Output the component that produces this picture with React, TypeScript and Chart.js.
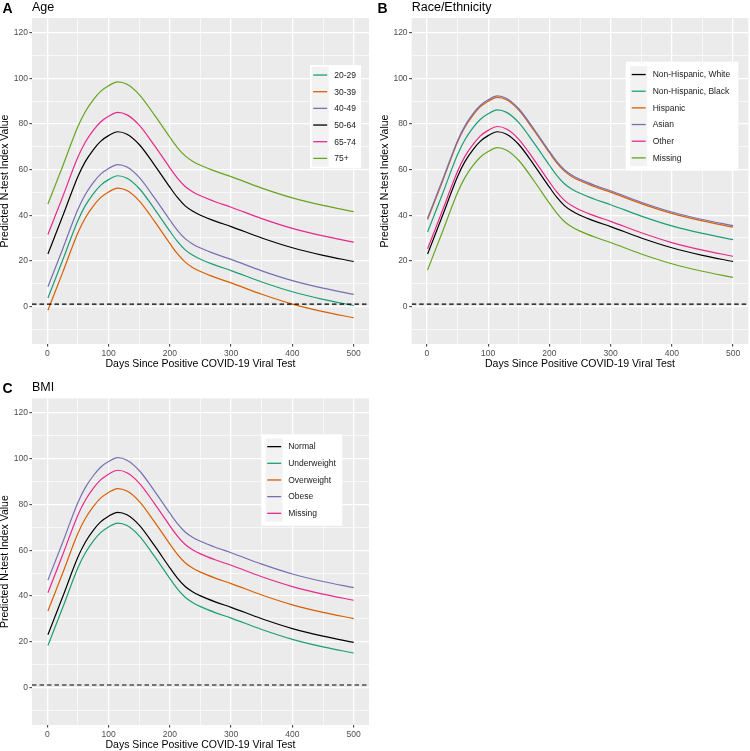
import React, { useEffect, useRef } from 'react';
import { Chart, registerables } from 'chart.js';

Chart.register(...registerables);

// ---------- data ----------
const DAYS = [1, 25, 50, 62, 75, 87, 100, 115, 130, 150, 175, 200, 212, 225, 237, 250, 275, 300, 350, 400, 450, 500];
const X_TICKS = [0, 50, 100, 150, 200, 250, 300, 350, 400, 450, 500];
const Y_TICKS = [-10, 0, 10, 20, 30, 40, 50, 60, 70, 80, 90, 100, 110, 120];
const X_MIN = -24.95;
const X_MAX = 524.95;
const Y_MIN = -16.5;
const Y_MAX = 126.5;
const REF_VALUE = 1;

// Panel A – Age
const AGE_LABELS = ['20-29', '30-39', '40-49', '50-64', '65-74', '75+'];
const AGE_20_29 = [3.7, 20.2, 37.7, 44.2, 49.4, 53.1, 55.6, 57.3, 56.2, 51.7, 42.7, 33.0, 28.6, 24.8, 22.5, 20.7, 18.0, 15.7, 10.7, 6.4, 3.1, 0.4];
const AGE_30_39 = [-1.7, 14.8, 32.3, 38.8, 44.0, 47.7, 50.2, 51.9, 50.8, 46.3, 37.3, 27.6, 23.2, 19.4, 17.1, 15.3, 12.6, 10.3, 5.3, 1.0, -2.3, -5.0];
const AGE_40_49 = [8.6, 25.1, 42.6, 49.1, 54.3, 58.0, 60.5, 62.2, 61.1, 56.6, 47.6, 37.9, 33.5, 29.7, 27.4, 25.6, 22.9, 20.6, 15.6, 11.3, 8.0, 5.3];
const AGE_50_64 = [23.0, 39.5, 57.0, 63.5, 68.7, 72.4, 74.9, 76.6, 75.5, 71.0, 62.0, 52.3, 47.9, 44.1, 41.8, 40.0, 37.3, 35.0, 30.0, 25.7, 22.4, 19.7];
const AGE_65_74 = [31.5, 48.0, 65.5, 72.0, 77.2, 80.9, 83.4, 85.1, 84.0, 79.5, 70.5, 60.8, 56.4, 52.6, 50.3, 48.5, 45.8, 43.5, 38.5, 34.2, 30.9, 28.2];
const AGE_75_UP = [44.9, 61.4, 78.9, 85.4, 90.6, 94.3, 96.8, 98.5, 97.4, 92.9, 83.9, 74.2, 69.8, 66.0, 63.7, 61.9, 59.2, 56.9, 51.9, 47.6, 44.3, 41.6];

// Panel B – Race/Ethnicity
const RACE_LABELS = ['Non-Hispanic, White', 'Non-Hispanic, Black', 'Hispanic', 'Asian', 'Other', 'Missing'];
const RACE_WHITE = [23.0, 39.5, 57.0, 63.5, 68.7, 72.4, 74.9, 76.6, 75.5, 71.0, 62.0, 52.3, 47.9, 44.1, 41.8, 40.0, 37.3, 35.0, 30.0, 25.7, 22.4, 19.7];
const RACE_BLACK = [32.6, 49.1, 66.6, 73.1, 78.3, 82.0, 84.5, 86.2, 85.1, 80.6, 71.6, 61.9, 57.5, 53.7, 51.4, 49.6, 46.9, 44.6, 39.6, 35.3, 32.0, 29.3];
const RACE_HISPANIC = [38.1, 54.6, 72.1, 78.6, 83.8, 87.5, 90.0, 91.7, 90.6, 86.1, 77.1, 67.4, 63.0, 59.2, 56.9, 55.1, 52.4, 50.1, 45.1, 40.8, 37.5, 34.8];
const RACE_ASIAN = [38.7, 55.2, 72.7, 79.2, 84.4, 88.1, 90.6, 92.3, 91.2, 86.7, 77.7, 68.0, 63.6, 59.8, 57.5, 55.7, 53.0, 50.7, 45.7, 41.4, 38.1, 35.4];
const RACE_OTHER = [25.3, 41.8, 59.3, 65.8, 71.0, 74.7, 77.2, 78.9, 77.8, 73.3, 64.3, 54.6, 50.2, 46.4, 44.1, 42.3, 39.6, 37.3, 32.3, 28.0, 24.7, 22.0];
const RACE_MISSING = [16.0, 32.5, 50.0, 56.5, 61.7, 65.4, 67.9, 69.6, 68.5, 64.0, 55.0, 45.3, 40.9, 37.1, 34.8, 33.0, 30.3, 28.0, 23.0, 18.7, 15.4, 12.7];

// Panel C – BMI
const BMI_LABELS = ['Normal', 'Underweight', 'Overweight', 'Obese', 'Missing'];
const BMI_NORMAL = [23.0, 39.5, 57.0, 63.5, 68.7, 72.4, 74.9, 76.6, 75.5, 71.0, 62.0, 52.3, 47.9, 44.1, 41.8, 40.0, 37.3, 35.0, 30.0, 25.7, 22.4, 19.7];
const BMI_UNDER = [18.3, 34.8, 52.3, 58.8, 64.0, 67.7, 70.2, 71.9, 70.8, 66.3, 57.3, 47.6, 43.2, 39.4, 37.1, 35.3, 32.6, 30.3, 25.3, 21.0, 17.7, 15.0];
const BMI_OVER = [33.4, 49.9, 67.4, 73.9, 79.1, 82.8, 85.3, 87.0, 85.9, 81.4, 72.4, 62.7, 58.3, 54.5, 52.2, 50.4, 47.7, 45.4, 40.4, 36.1, 32.8, 30.1];
const BMI_OBESE = [46.9, 63.4, 80.9, 87.4, 92.6, 96.3, 98.8, 100.5, 99.4, 94.9, 85.9, 76.2, 71.8, 68.0, 65.7, 63.9, 61.2, 58.9, 53.9, 49.6, 46.3, 43.6];
const BMI_MISSING = [41.4, 57.9, 75.4, 81.9, 87.1, 90.8, 93.3, 95.0, 93.9, 89.4, 80.4, 70.7, 66.3, 62.5, 60.2, 58.4, 55.7, 53.4, 48.4, 44.1, 40.8, 38.1];

// ---------- styles ----------
const TEAL = '#1B9E77';
const ORANGE = '#D95F02';
const PURPLE = '#7570B3';
const PINK = '#E7298A';
const GREEN = '#66A61E';
const BLACK = '#000000';
const FONT = '"Liberation Sans", Arial, Helvetica, sans-serif';
const X_TITLE = 'Days Since Positive COVID-19 Viral Test';
const Y_TITLE = 'Predicted N-test Index Value';

type Series = { label: string; values: number[]; color: string };
type PanelCfg = {
  tag: string;
  title: string;
  left: number;
  top: number;
  w: number;
  h: number;
  plot: { l: number; r: number; t: number; b: number };
  legend: { x: number; y: number; w: number; pad: number };
  series: Series[];
};

const PANELS: PanelCfg[] = [
  {
    tag: 'A',
    title: 'Age',
    left: 0,
    top: 0,
    w: 375,
    h: 375,
    plot: { l: 32, r: 369, t: 18, b: 344 },
    legend: { x: 310, y: 65, w: 51, pad: 1.7 },
    series: [
      { label: AGE_LABELS[0], values: AGE_20_29, color: TEAL },
      { label: AGE_LABELS[1], values: AGE_30_39, color: ORANGE },
      { label: AGE_LABELS[2], values: AGE_40_49, color: PURPLE },
      { label: AGE_LABELS[3], values: AGE_50_64, color: BLACK },
      { label: AGE_LABELS[4], values: AGE_65_74, color: PINK },
      { label: AGE_LABELS[5], values: AGE_75_UP, color: GREEN },
    ],
  },
  {
    tag: 'B',
    title: 'Race/Ethnicity',
    left: 375,
    top: 0,
    w: 375,
    h: 375,
    plot: { l: 36.7, r: 373.3, t: 18, b: 344 },
    legend: { x: 250.7, y: 61.7, w: 112.6, pad: 4.5 },
    series: [
      { label: RACE_LABELS[0], values: RACE_WHITE, color: BLACK },
      { label: RACE_LABELS[1], values: RACE_BLACK, color: TEAL },
      { label: RACE_LABELS[2], values: RACE_HISPANIC, color: ORANGE },
      { label: RACE_LABELS[3], values: RACE_ASIAN, color: PURPLE },
      { label: RACE_LABELS[4], values: RACE_OTHER, color: PINK },
      { label: RACE_LABELS[5], values: RACE_MISSING, color: GREEN },
    ],
  },
  {
    tag: 'C',
    title: 'BMI',
    left: 0,
    top: 380,
    w: 375,
    h: 371,
    plot: { l: 32, r: 369, t: 18.3, b: 345 },
    legend: { x: 261.7, y: 54.3, w: 80.6, pad: 4 },
    series: [
      { label: BMI_LABELS[0], values: BMI_NORMAL, color: BLACK },
      { label: BMI_LABELS[1], values: BMI_UNDER, color: TEAL },
      { label: BMI_LABELS[2], values: BMI_OVER, color: ORANGE },
      { label: BMI_LABELS[3], values: BMI_OBESE, color: PURPLE },
      { label: BMI_LABELS[4], values: BMI_MISSING, color: PINK },
    ],
  },
];

const ROW_H = 16.67;
const KEY_W = 17;

const decorPlugin = {
  id: 'decor',
  beforeDraw(chart: any) {
    const { ctx, chartArea: a } = chart;
    ctx.save();
    ctx.fillStyle = '#EBEBEB';
    ctx.fillRect(a.left, a.top, a.right - a.left, a.bottom - a.top);
    ctx.restore();
  },
  afterDraw(chart: any, _args: any, opts: any) {
    const { ctx, chartArea: a } = chart;
    const cfg: PanelCfg = opts.cfg;
    ctx.save();
    // tag + title
    ctx.fillStyle = '#000';
    ctx.textBaseline = 'alphabetic';
    ctx.textAlign = 'left';
    ctx.font = `bold 14px ${FONT}`;
    ctx.fillText(cfg.tag, 2.5, 12.5);
    ctx.font = `12.5px ${FONT}`;
    ctx.fillText(cfg.title, a.left, 11);
    // axis titles
    ctx.font = `10.5px ${FONT}`;
    ctx.textAlign = 'center';
    ctx.fillText(X_TITLE, (a.left + a.right) / 2, a.bottom + 22.6);
    ctx.save();
    ctx.translate(a.left - 23.7, (a.top + a.bottom) / 2);
    ctx.rotate(-Math.PI / 2);
    ctx.fillText(Y_TITLE, 0, 0);
    ctx.restore();
    // legend
    const lg = cfg.legend;
    const n = cfg.series.length;
    const h = lg.pad * 2 + n * ROW_H;
    ctx.fillStyle = '#FFFFFF';
    ctx.fillRect(lg.x, lg.y, lg.w, h);
    const keyX = lg.x + lg.pad;
    ctx.fillStyle = '#F2F2F2';
    ctx.fillRect(keyX, lg.y + lg.pad, KEY_W, n * ROW_H);
    ctx.font = `8.5px ${FONT}`;
    ctx.textAlign = 'left';
    ctx.textBaseline = 'middle';
    cfg.series.forEach((s, i) => {
      const cy = lg.y + lg.pad + ROW_H * (i + 0.5);
      ctx.strokeStyle = s.color;
      ctx.lineWidth = 1.3;
      ctx.beginPath();
      ctx.moveTo(keyX + 1.5, cy);
      ctx.lineTo(keyX + KEY_W - 1.5, cy);
      ctx.stroke();
      ctx.fillStyle = '#1A1A1A';
      ctx.fillText(s.label, keyX + KEY_W + 5.5, cy + 0.5);
    });
    ctx.restore();
  },
};

function Panel({ cfg }: { cfg: PanelCfg }) {
  const ref = useRef<HTMLCanvasElement>(null);
  useEffect(() => {
    if (!ref.current) return;
    const n = cfg.series.length;
    const datasets: any[] = cfg.series.map((s, i) => ({
      label: s.label,
      data: DAYS.map((d, j) => ({ x: d, y: s.values[j] })),
      borderColor: s.color,
      backgroundColor: s.color,
      borderWidth: 1.2,
      pointRadius: 0,
      fill: false,
      cubicInterpolationMode: 'monotone',
      order: n - i + 1,
    }));
    datasets.push({
      label: 'reference',
      data: [
        { x: X_MIN, y: REF_VALUE },
        { x: X_MAX, y: REF_VALUE },
      ],
      borderColor: '#000',
      borderWidth: 1.1,
      borderDash: [4.5, 3],
      pointRadius: 0,
      fill: false,
      order: 0,
    });
    const tickFont = { family: FONT, size: 8.5 };
    const chart = new Chart(ref.current, {
      type: 'line',
      data: { datasets },
      options: {
        responsive: false,
        animation: false,
        events: [],
        layout: { padding: { left: 0, top: cfg.plot.t, right: cfg.w - cfg.plot.r, bottom: 0 } },
        plugins: {
          legend: { display: false },
          tooltip: { enabled: false },
          decor: { cfg },
        } as any,
        scales: {
          x: {
            type: 'linear',
            min: X_MIN,
            max: X_MAX,
            afterBuildTicks: (s: any) => {
              s.ticks = X_TICKS.map((v) => ({ value: v }));
            },
            afterFit: (s: any) => {
              s.height = cfg.h - cfg.plot.b;
            },
            ticks: {
              autoSkip: false,
              maxRotation: 0,
              minRotation: 0,
              padding: 2,
              color: '#4D4D4D',
              font: tickFont,
              callback: (v: any) => (Number(v) % 100 === 0 ? String(v) : ''),
            },
            grid: {
              color: '#FFFFFF',
              lineWidth: (c: any) => (c.tick && c.tick.value % 100 === 0 ? 1.3 : 0.65),
              tickColor: (c: any) => (c.tick && c.tick.value % 100 === 0 ? '#333333' : 'rgba(0,0,0,0)'),
              tickLength: 2.6,
              tickWidth: 1,
            },
            border: { display: false },
          },
          y: {
            type: 'linear',
            min: Y_MIN,
            max: Y_MAX,
            afterBuildTicks: (s: any) => {
              s.ticks = Y_TICKS.map((v) => ({ value: v }));
            },
            afterFit: (s: any) => {
              s.width = cfg.plot.l;
            },
            ticks: {
              autoSkip: false,
              padding: 1.5,
              color: '#4D4D4D',
              font: tickFont,
              callback: (v: any) => (Number(v) % 20 === 0 ? String(v) : ''),
            },
            grid: {
              color: '#FFFFFF',
              lineWidth: (c: any) => (c.tick && c.tick.value % 20 === 0 ? 1.3 : 0.65),
              tickColor: (c: any) => (c.tick && c.tick.value % 20 === 0 ? '#333333' : 'rgba(0,0,0,0)'),
              tickLength: 2.6,
              tickWidth: 1,
            },
            border: { display: false },
          },
        },
      } as any,
      plugins: [decorPlugin],
    });
    return () => chart.destroy();
  }, [cfg]);
  return (
    <canvas
      ref={ref}
      width={cfg.w}
      height={cfg.h}
      style={{ position: 'absolute', left: cfg.left, top: cfg.top, width: cfg.w, height: cfg.h }}
    />
  );
}

export default function App() {
  return (
    <div style={{ position: 'absolute', left: 0, top: 0, width: 750, height: 751, background: '#FFFFFF' }}>
      {PANELS.map((p) => (
        <Panel key={p.tag} cfg={p} />
      ))}
    </div>
  );
}
